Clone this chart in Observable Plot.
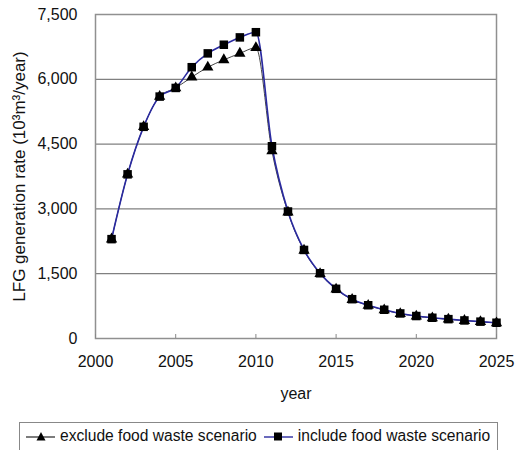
<!DOCTYPE html>
<html>
<head>
<meta charset="utf-8">
<script src="https://cdn.jsdelivr.net/npm/d3@7"></script>
<script src="https://cdn.jsdelivr.net/npm/@observablehq/plot@0.6"></script>
<style>
  body { margin: 0; background: #fff; font-family: "Liberation Sans", Arial, sans-serif; }
  #legend { position: absolute; left: 19px; top: 422px; width: 479px; height: 30px; border: 1px solid #888; box-sizing: border-box;
            display: flex; align-items: center; font-size: 15.6px; color: #111; padding-bottom: 2px; }
  .item { display: flex; align-items: center; white-space: nowrap; }
  .item svg { margin-right: 4px; }
</style>
</head>
<body>
<div id="chart"></div>
<div id="legend"></div>
<script>
const years = d3.range(2001, 2026);
const includeFood = [2300, 3800, 4900, 5600, 5800, 6280, 6600, 6800, 6970, 7090, 4450, 2940, 2050, 1510, 1150, 910, 770, 665, 580, 520, 480, 448, 418, 390, 365];
const excludeFood = [2300, 3800, 4900, 5600, 5800, 6050, 6280, 6450, 6600, 6730, 4340, 2920, 2040, 1500, 1140, 900, 765, 660, 575, 515, 475, 444, 414, 386, 360];
const yTicks = [0, 1500, 3000, 4500, 6000, 7500];
const xTicks = [2000, 2005, 2010, 2015, 2020, 2025];
const seriesNames = ["exclude food waste scenario", "include food waste scenario"];

const rows = [];
years.forEach((yr, i) => {
  rows.push({year: yr, value: excludeFood[i], series: seriesNames[0]});
  rows.push({year: yr, value: includeFood[i], series: seriesNames[1]});
});
const excl = rows.filter(d => d.series === seriesNames[0]);
const incl = rows.filter(d => d.series === seriesNames[1]);

const chart = Plot.plot({
  width: 520,
  height: 418,
  marginTop: 14,
  marginLeft: 95,
  marginRight: 24,
  marginBottom: 80,
  style: {fontFamily: "'Liberation Sans', Arial, sans-serif", fontSize: "16px", color: "#111"},
  x: {domain: [2000, 2025]},
  y: {domain: [0, 7500]},
  marks: [
    Plot.ruleY(yTicks, {stroke: "#808080", strokeWidth: 1.2, strokeOpacity: 1}),
    Plot.frame({stroke: "#909090", strokeWidth: 1.5}),
    Plot.axisY({ticks: yTicks, tickFormat: d3.format(","), tickSize: 0, tickPadding: 18, fontSize: 16, label: null}),
    Plot.axisY({ticks: [], label: "LFG generation rate (10³m³/year)", fontSize: 17, labelAnchor: "center", labelArrow: "none", labelOffset: 83}),
    Plot.axisX({ticks: xTicks, tickFormat: d => String(d), tickSize: -4, tickPadding: 21, fontSize: 16, stroke: "#888",
      label: "year", labelAnchor: "center", labelArrow: "none", labelOffset: 60}),
    Plot.line(excl, {x: "year", y: "value", stroke: "#444", strokeWidth: 1, curve: "monotone-x"}),
    Plot.line(incl, {x: "year", y: "value", stroke: "#2a2aa0", strokeWidth: 1.6, curve: "monotone-x"}),
    Plot.dot(excl, {x: "year", y: "value", symbol: "triangle", fill: "#000", stroke: "none", r: 4.2}),
    Plot.dot(incl, {x: "year", y: "value", symbol: "square", fill: "#000", stroke: "none", r: 4.8})
  ]
});
document.getElementById("chart").appendChild(chart);

const legend = document.getElementById("legend");
const swatches = [
  {name: seriesNames[0], color: "#444", shape: "tri"},
  {name: seriesNames[1], color: "#2a2aa0", shape: "sq"}
];
swatches.forEach((s, i) => {
  const item = document.createElement("div");
  item.className = "item";
  item.style.marginLeft = i === 0 ? "5px" : "6px";
  const sym = s.shape === "tri"
    ? '<path d="M16,3 L20.5,11.5 L11.5,11.5 Z" fill="#000"/>'
    : '<rect x="11" y="3.5" width="8" height="8" fill="#000"/>';
  item.innerHTML = `<svg width="31" height="15"><line x1="1" x2="30" y1="8" y2="8" stroke="${s.color}" stroke-width="1.4"/>${sym}</svg><span>${s.name}</span>`;
  legend.appendChild(item);
});
</script>
</body>
</html>
